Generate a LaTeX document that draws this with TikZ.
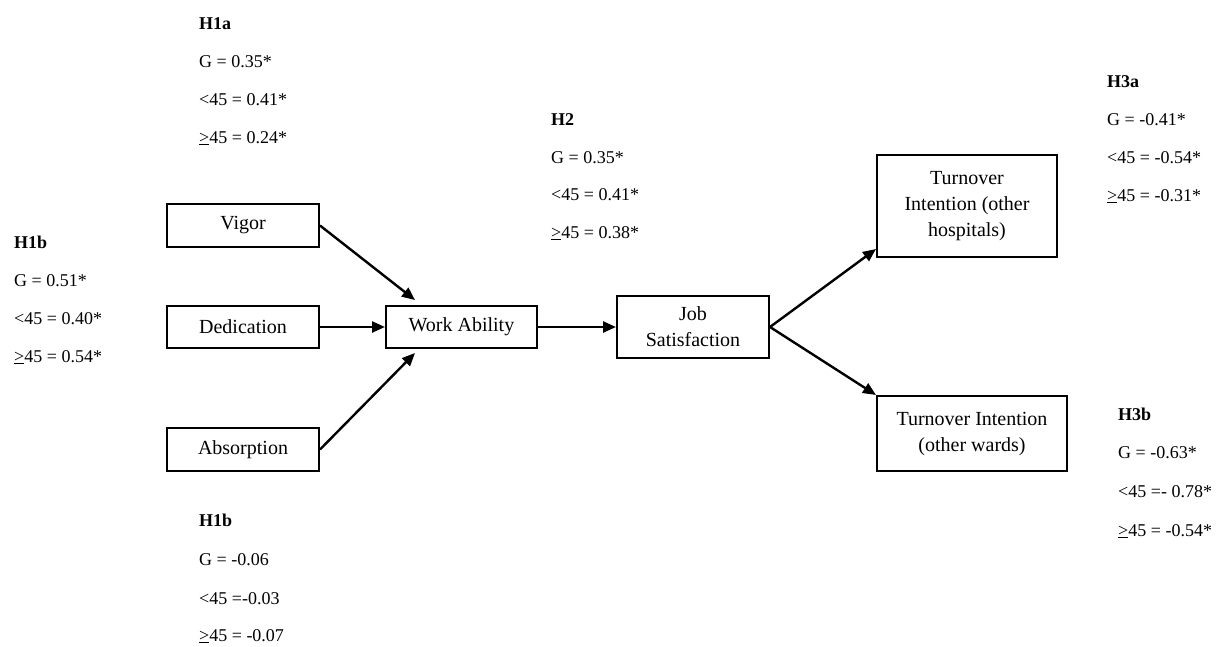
\documentclass[tikz,border=0pt]{standalone}
\usepackage{fontspec}
\setmainfont{Liberation Serif}
\usetikzlibrary{arrows.meta}
\begin{document}
\begin{tikzpicture}[x=1pt,y=-1pt,
  box/.style={draw, line width=2pt, inner sep=0pt, align=center, font=\fontsize{20}{26}\selectfont},
  lab/.style={anchor=base west, inner sep=0pt, font=\fontsize{18}{22}\selectfont},
  hd/.style={anchor=base west, inner sep=0pt, font=\fontsize{18}{22}\selectfont\bfseries},
  conn/.style={line width=2.4pt, -{Triangle[length=13pt,width=11pt]}}]
\useasboundingbox (0,0) rectangle (1229,646);
% boxes
\node[box, minimum width=152pt, minimum height=43pt] (vig) at (243,225.5) {Vigor};
\node[box, minimum width=152pt, minimum height=42pt] (ded) at (243,327) {Dedication};
\node[box, minimum width=152pt, minimum height=43pt] (abs) at (243,449.5) {Absorption};
\node[box, minimum width=151pt, minimum height=42pt] (wa) at (461.5,327) {Work Ability};
\node[box, minimum width=152pt, minimum height=62pt] (job) at (693,327) {Job\\Satisfaction};
\node[box, minimum width=180pt, minimum height=102pt] (th) at (967,206) {Turnover\\Intention (other\\hospitals)};
\node[box, minimum width=190pt, minimum height=75pt] (tw) at (972,433.5) {Turnover Intention\\(other wards)};
% connectors
\draw[conn] (vig.east) -- ([shift={(30,-5)}]wa.north west);
\draw[conn] (ded.east) -- (wa.west);
\draw[conn] (abs.east) -- ([shift={(30,4)}]wa.south west);
\draw[conn] (wa.east) -- (job.west);
\draw[conn] (job.east) -- ([shift={(0,-9)}]th.south west);
\draw[conn] (job.east) -- (tw.north west);
% H1a
\node[hd]  (h1a)  at (199,29)  {H1a};
\node[lab] (h1a1) at (199,67)  {G = 0.35*};
\node[lab] (h1a2) at (199,105) {<45 = 0.41*};
\node[lab] (h1a3) at (199,143) {\underline{>}45 = 0.24*};
% H1b left
\node[hd]  (h1b)  at (14,248) {H1b};
\node[lab] (h1b1) at (14,286) {G = 0.51*};
\node[lab] (h1b2) at (14,324) {<45 = 0.40*};
\node[lab] (h1b3) at (14,362) {\underline{>}45 = 0.54*};
% H2
\node[hd]  (h2)  at (551,125) {H2};
\node[lab] (h21) at (551,163) {G = 0.35*};
\node[lab] (h22) at (551,200) {<45 = 0.41*};
\node[lab] (h23) at (551,238) {\underline{>}45 = 0.38*};
% H3a
\node[hd]  (h3a)  at (1107,87)  {H3a};
\node[lab] (h3a1) at (1107,125) {G = -0.41*};
\node[lab] (h3a2) at (1107,163) {<45 = -0.54*};
\node[lab] (h3a3) at (1107,201) {\underline{>}45 = -0.31*};
% H3b
\node[hd]  (h3b)  at (1118,420) {H3b};
\node[lab] (h3b1) at (1118,458) {G = -0.63*};
\node[lab] (h3b2) at (1118,497) {<45 =- 0.78*};
\node[lab] (h3b3) at (1118,536) {\underline{>}45 = -0.54*};
% H1b bottom
\node[hd]  (h1c)  at (199,526) {H1b};
\node[lab] (h1c1) at (199,565) {G = -0.06};
\node[lab] (h1c2) at (199,604) {<45 =-0.03};
\node[lab] (h1c3) at (199,641) {\underline{>}45 = -0.07};
\end{tikzpicture}
\end{document}
